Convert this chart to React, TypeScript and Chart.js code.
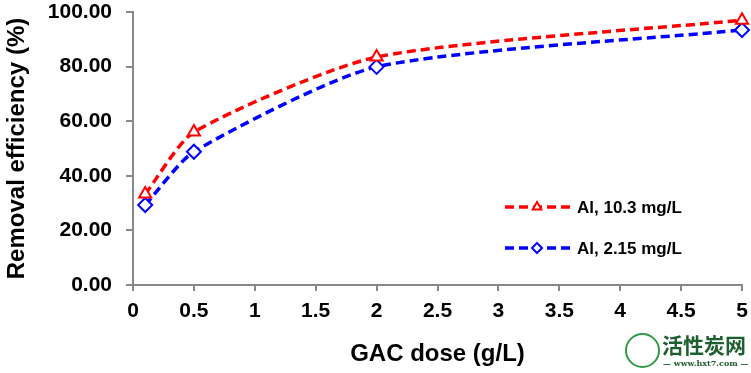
import React, { useEffect, useRef } from "react";
import { Chart, registerables } from "chart.js";

Chart.register(...registerables);

const doses = [0.1, 0.5, 2, 5];
const seriesHigh = [33.3, 56.0, 83.5, 97.0];
const seriesLow = [29.3, 48.8, 79.9, 93.4];
const seriesLabels = ["Al, 10.3 mg/L", "Al, 2.15 mg/L"];
const seriesColors = ["#ff0000", "#0000ff"];
const markerStyles = ["triangle", "rectRot"];
const xTitle = "GAC dose (g/L)";
const yTitle = "Removal efficiency (%)";

const FONT = "'Liberation Sans', Arial, sans-serif";
const LEGEND_ROWS = [207, 248];

const legendPlugin = {
  id: "customLegend",
  afterDraw(chart: any) {
    const ctx = chart.ctx;
    chart.data.datasets.forEach((ds: any, i: number) => {
      const y = LEGEND_ROWS[i];
      ctx.save();
      ctx.strokeStyle = ds.borderColor;
      ctx.lineWidth = 3.5;
      ctx.setLineDash([9, 5]);
      ctx.beginPath();
      ctx.moveTo(505, y);
      ctx.lineTo(570, y);
      ctx.stroke();
      ctx.restore();

      const el = chart.getDatasetMeta(i).data[0];
      const proto = Object.getPrototypeOf(el);
      const fake = Object.create(proto);
      fake.x = 537;
      fake.y = y;
      fake.options = { ...el.options, radius: 5, pointStyle: ds.pointStyle, borderWidth: 2 };
      fake.skip = false;
      ctx.save();
      fake.draw(ctx, undefined);
      ctx.restore();

      ctx.save();
      ctx.fillStyle = "#000";
      ctx.font = `bold 17px ${FONT}`;
      ctx.textBaseline = "middle";
      ctx.textAlign = "left";
      ctx.fillText(ds.label, 577, y + 1);
      ctx.restore();
    });
  },
};

export default function App() {
  const ref = useRef<HTMLCanvasElement | null>(null);
  useEffect(() => {
    if (!ref.current) return;
    const mk = (vals: number[], i: number) => ({
      label: seriesLabels[i],
      data: doses.map((d, k) => ({ x: d, y: vals[k] })),
      borderColor: seriesColors[i],
      backgroundColor: "#ffffff",
      borderWidth: 3.5,
      borderDash: [9, 5],
      tension: 0.22,
      pointStyle: markerStyles[i],
      pointRadius: 7,
      pointBorderWidth: 2,
      pointBorderColor: seriesColors[i],
      pointBackgroundColor: "#ffffff",
      clip: false as any,
    });
    const chart = new Chart(ref.current, {
      type: "line",
      data: { datasets: [mk(seriesHigh, 0), mk(seriesLow, 1)] },
      options: {
        animation: false,
        responsive: false,
        maintainAspectRatio: false,
        layout: { padding: { left: 0, right: 9, top: 12, bottom: 0 } },
        plugins: { legend: { display: false }, tooltip: { enabled: false } },
        scales: {
          x: {
            type: "linear",
            min: 0,
            max: 5,
            ticks: {
              stepSize: 0.5,
              color: "#000",
              font: { family: FONT, size: 21, weight: "bold" },
              padding: 8,
              maxRotation: 0,
              callback: (v: any) => String(v),
            },
            grid: { drawOnChartArea: false, color: "#888", tickLength: 6, lineWidth: 2 },
            border: { color: "#888", width: 2 },
            title: {
              display: true,
              text: xTitle,
              color: "#000",
              font: { family: FONT, size: 24, weight: "bold" },
              padding: { top: 0, bottom: 4 },
            },
            afterFit: (s: any) => {
              s.height = 88;
              s.paddingLeft = 0;
              s.paddingRight = 0;
            },
          },
          y: {
            min: 0,
            max: 100,
            ticks: {
              stepSize: 20,
              color: "#000",
              font: { family: FONT, size: 21, weight: "bold" },
              padding: 14,
              callback: (v: any) => Number(v).toFixed(2),
            },
            grid: { drawOnChartArea: false, color: "#888", tickLength: 7, lineWidth: 2 },
            border: { color: "#888", width: 2 },
            title: {
              display: true,
              text: yTitle,
              color: "#000",
              font: { family: FONT, size: 24, weight: "bold" },
              padding: { top: 3, bottom: 0 },
            },
            afterFit: (s: any) => {
              s.width = 133;
              s.paddingTop = 0;
              s.paddingBottom = 0;
            },
          },
        },
      },
      plugins: [legendPlugin],
    });
    return () => chart.destroy();
  }, []);
  return (
    <div style={{ position: "absolute", left: 0, top: 0, width: 751, height: 373, background: "#fff" }}>
      <canvas ref={ref} width={751} height={373} style={{ width: 751, height: 373, display: "block" }} />
      <div style={{ position: "absolute", left: 625, top: 333, width: 35, height: 35, borderRadius: "50%", border: "2px solid #2f9a45", boxSizing: "border-box" }} />
      <div style={{ position: "absolute", left: 662, top: 331, whiteSpace: "nowrap", fontFamily: "'Noto Sans CJK SC', sans-serif", fontWeight: 700, fontSize: 21, lineHeight: "26px", color: "#1e5f30" }}>活性炭网</div>
      <div style={{ position: "absolute", left: 663, top: 358, whiteSpace: "nowrap", fontFamily: "'DejaVu Serif', serif", fontWeight: 700, fontSize: 8, lineHeight: "10px", color: "#1e5f30" }}>— www.hxt7.com —</div>
    </div>
  );
}
